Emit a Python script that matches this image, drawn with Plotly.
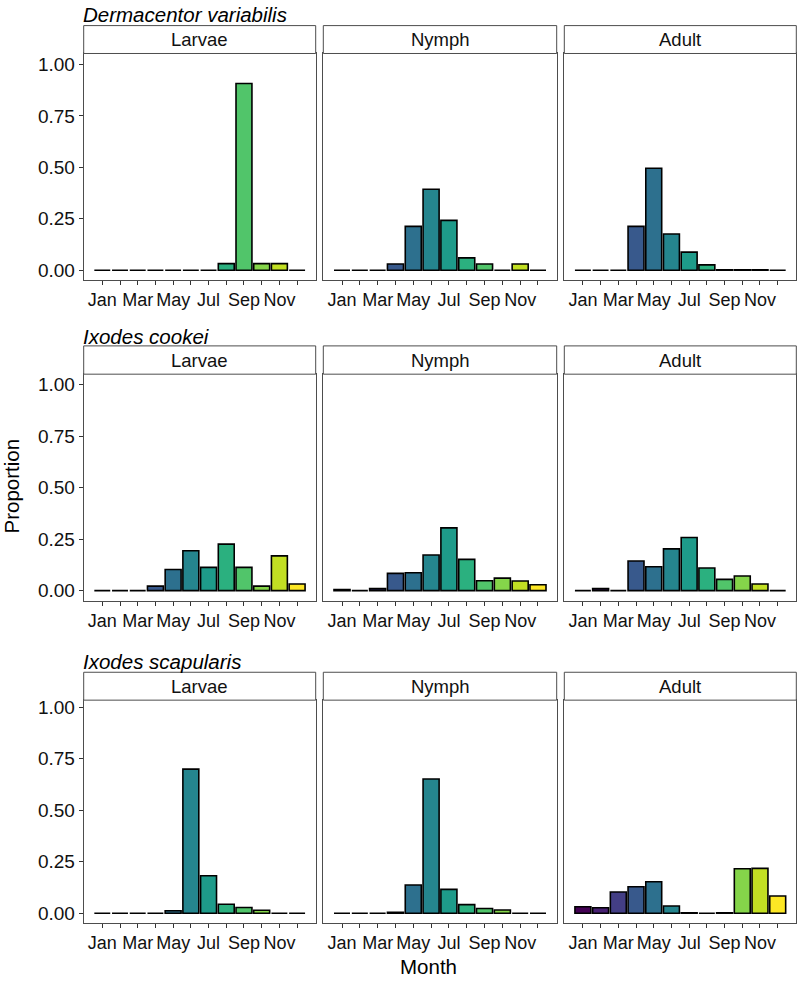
import plotly.graph_objects as go

months = ["Jan", "Feb", "Mar", "Apr", "May", "Jun", "Jul", "Aug", "Sep", "Oct", "Nov", "Dec"]
tick_labels = ["Jan", "", "Mar", "", "May", "", "Jul", "", "Sep", "", "Nov", ""]
y_ticks = [0, 0.25, 0.5, 0.75, 1.0]
y_tick_labels = ["0.00", "0.25", "0.50", "0.75", "1.00"]
species = ["Dermacentor variabilis", "Ixodes cookei", "Ixodes scapularis"]
stages = ["Larvae", "Nymph", "Adult"]
month_colors = ["#440154", "#482173", "#433E85", "#38598C", "#2D708E", "#25858E",
                "#1E9B8A", "#2BB07F", "#51C56A", "#85D54A", "#C2DF23", "#FDE725"]

dv_larvae = [0, 0, 0, 0, 0, 0, 0, 0.032, 0.907, 0.032, 0.032, 0]
dv_nymph = [0, 0, 0, 0.03, 0.213, 0.393, 0.242, 0.06, 0.03, 0, 0.03, 0]
dv_adult = [0, 0, 0, 0.213, 0.495, 0.176, 0.088, 0.026, 0.002, 0.002, 0.002, 0]
ic_larvae = [0, 0, 0, 0.022, 0.103, 0.194, 0.113, 0.226, 0.113, 0.022, 0.169, 0.032]
ic_nymph = [0.006, 0, 0.01, 0.084, 0.087, 0.173, 0.305, 0.152, 0.048, 0.061, 0.047, 0.029]
ic_adult = [0, 0.01, 0, 0.144, 0.116, 0.203, 0.258, 0.11, 0.055, 0.071, 0.032, 0]
is_larvae = [0, 0, 0, 0, 0.012, 0.70, 0.182, 0.044, 0.028, 0.015, 0, 0]
is_nymph = [0, 0, 0, 0.005, 0.137, 0.652, 0.116, 0.042, 0.023, 0.016, 0, 0]
is_adult = [0.032, 0.027, 0.103, 0.129, 0.153, 0.035, 0.002, 0, 0.002, 0.216, 0.218, 0.084]

data = [[dv_larvae, dv_nymph, dv_adult],
        [ic_larvae, ic_nymph, ic_adult],
        [is_larvae, is_nymph, is_adult]]

# ---- layout geometry (pixels) ----
W, H = 797, 981
cols_px = [(83.7, 315.7), (323.3, 556.7), (564.3, 796.3)]
plot_rows_px = [(50.7, 278.0), (372.7, 600.0), (700.0, 923.3)]
strip_rows_px = [(22.7, 50.7), (344.3, 372.7), (672.0, 700.0)]
title_y_px = [11.5, 334.5, 661.0]
y_ranges = [(-0.047, 1.053), (-0.048, 1.051), (-0.045, 1.035)]

FONT = "Liberation Sans, Arial, Helvetica, sans-serif"
LINE = "#4d4d4d"
TXT = "#111111"


def px_x(x):
    return x / W


def px_y(y):
    return 1 - y / H


fig = go.Figure()
layout = dict(
    width=W, height=H, margin=dict(l=0, r=0, t=0, b=0),
    paper_bgcolor="white", plot_bgcolor="white", showlegend=False,
    font=dict(family=FONT, size=18, color=TXT),
)
shapes = []
annotations = []

for r in range(3):
    for c in range(3):
        idx = r * 3 + c + 1
        xa = "x" if idx == 1 else f"x{idx}"
        ya = "y" if idx == 1 else f"y{idx}"
        vals = data[r][c]
        fig.add_trace(go.Bar(
            x=months, y=vals, xaxis=xa, yaxis=ya, width=0.9,
            marker=dict(color=month_colors, line=dict(color="black", width=1.6)),
        ))
        x0, x1 = cols_px[c]
        y0, y1 = plot_rows_px[r]
        layout["xaxis" if idx == 1 else f"xaxis{idx}"] = dict(
            domain=[px_x(x0), px_x(x1)], anchor=ya, type="category",
            categoryorder="array", categoryarray=months,
            range=[-1.05, 12.05], tickmode="array", tickvals=months, ticktext=tick_labels,
            tickangle=0,
            ticks="outside", ticklen=4, tickcolor="#333333", tickwidth=1,
            showline=True, mirror=True, linecolor=LINE, linewidth=1,
            showgrid=False, zeroline=False, tickfont=dict(size=18, color=TXT),
            fixedrange=True,
        )
        layout["yaxis" if idx == 1 else f"yaxis{idx}"] = dict(
            domain=[px_y(y1), px_y(y0)], anchor=xa, range=list(y_ranges[r]),
            tickmode="array", tickvals=y_ticks, ticktext=y_tick_labels,
            showticklabels=(c == 0),
            ticks="outside" if c == 0 else "", ticklen=4, tickcolor="#333333", tickwidth=1,
            showline=True, mirror=True, linecolor=LINE, linewidth=1,
            showgrid=False, zeroline=False, tickfont=dict(size=19, color=TXT),
            fixedrange=True,
        )
        sy0, sy1 = strip_rows_px[r]
        shapes.append(dict(type="rect", xref="paper", yref="paper",
                           x0=px_x(x0), x1=px_x(x1), y0=px_y(sy1), y1=px_y(sy0),
                           fillcolor="white", line=dict(color=LINE, width=1)))
        annotations.append(dict(text=stages[c], xref="paper", yref="paper",
                                x=px_x((x0 + x1) / 2), y=px_y((sy0 + sy1) / 2),
                                xanchor="center", yanchor="middle", showarrow=False,
                                font=dict(size=18.5, color=TXT)))
    annotations.append(dict(text=f"<i>{species[r]}</i>", xref="paper", yref="paper",
                            x=px_x(81.0), y=px_y(title_y_px[r]), xanchor="left", yanchor="middle",
                            showarrow=False, font=dict(size=20.5, color="black")))

annotations.append(dict(text="Proportion", xref="paper", yref="paper",
                        x=px_x(11.5), y=px_y(485), textangle=-90,
                        xanchor="center", yanchor="middle", showarrow=False,
                        font=dict(size=20.5, color="black")))
annotations.append(dict(text="Month", xref="paper", yref="paper",
                        x=px_x(429), y=px_y(967), xanchor="center", yanchor="middle",
                        showarrow=False, font=dict(size=20.5, color="black")))

layout["shapes"] = shapes
layout["annotations"] = annotations
fig.update_layout(**layout)
fig.write_html("out.html", config={"displayModeBar": False},
               post_script="document.body.style.margin='0';document.body.style.overflow='hidden';")
